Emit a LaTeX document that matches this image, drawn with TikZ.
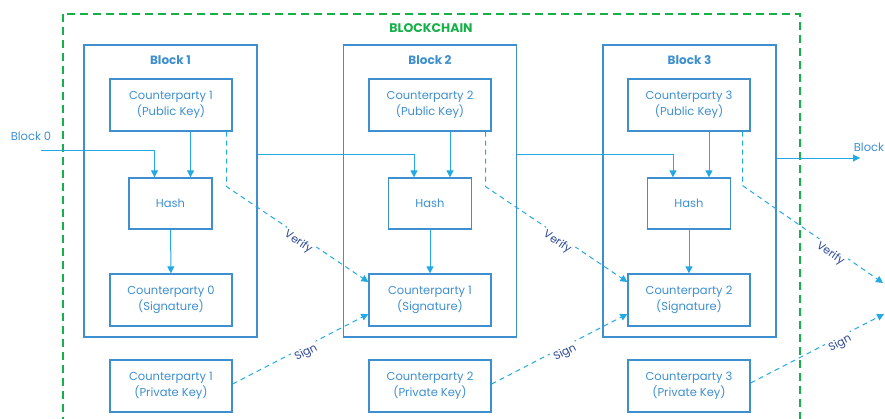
\documentclass[tikz,border=0pt]{standalone}
\usepackage{fontspec}
\setmainfont{Poppins}
\usepackage{tikz}
\usetikzlibrary{arrows.meta, positioning, calc}
\definecolor{chainblue}{RGB}{61,143,208}
\definecolor{linkblue}{RGB}{35,170,228}
\definecolor{labelnavy}{RGB}{44,72,150}
\definecolor{chaingreen}{RGB}{22,176,74}
\tikzset{
  blockbox/.style={rectangle, draw=chainblue, line width=1.3pt,
    minimum width=173pt, minimum height=292pt, inner sep=0pt},
  keybox/.style={rectangle, draw=chainblue, line width=1.3pt, text=chainblue,
    minimum width=122pt, minimum height=52pt, align=center, inner sep=0pt,
    font=\fontsize{11.5}{16}\selectfont},
  hashbox/.style={keybox, minimum width=83pt, minimum height=51pt},
  blocktitle/.style={text=chainblue, font=\bfseries\fontsize{12}{14}\selectfont},
  arrow/.style={-{Triangle[length=7pt,width=7pt]}, line width=1pt, color=linkblue},
  dasharrow/.style={arrow, dash pattern=on 5pt off 4pt},
  edgelabel/.style={sloped, below=-2pt, fill=white, text=labelnavy,
    font=\fontsize{11}{13}\selectfont, inner sep=2pt}
}

\begin{document}
\begin{tikzpicture}[x=1pt, y=-1pt]
  \useasboundingbox (0,0) rectangle (885,418);

  % Blockchain frame
  \draw[chaingreen, line width=2.6pt, dash pattern=on 8pt off 5pt] (63,14) rectangle (800,440);
  \node[text=chaingreen, font=\bfseries\fontsize{12.5}{14}\selectfont] (chain) at (431,28) {BLOCKCHAIN};

  % Block 1
  \node[blockbox] (blk1) at (170.5,191) {};
  \node[blocktitle] (title1) at (170.5,60) {Block 1};
  \node[keybox] (pub1) at (171,105) {Counterparty 1\\(Public Key)};
  \node[hashbox] (hash1) at (170.5,203.5) {Hash};
  \node[keybox] (sig1) at (171,300) {Counterparty 0\\(Signature)};
  \node[keybox] (prv1) at (171,386) {Counterparty 1\\(Private Key)};

  % Block 2
  \node[blockbox] (blk2) at (430,191) {};
  \node[blocktitle] (title2) at (430,60) {Block 2};
  \node[keybox] (pub2) at (430,105) {Counterparty 2\\(Public Key)};
  \node[hashbox] (hash2) at (430,203.5) {Hash};
  \node[keybox] (sig2) at (430,300) {Counterparty 1\\(Signature)};
  \node[keybox] (prv2) at (430,386) {Counterparty 2\\(Private Key)};

  % Block 3
  \node[blockbox] (blk3) at (689.5,191) {};
  \node[blocktitle] (title3) at (689.5,60) {Block 3};
  \node[keybox] (pub3) at (689,105) {Counterparty 3\\(Public Key)};
  \node[hashbox] (hash3) at (689,203.5) {Hash};
  \node[keybox] (sig3) at (689,300) {Counterparty 2\\(Signature)};
  \node[keybox] (prv3) at (689,386) {Counterparty 3\\(Private Key)};

  % Chain in and out
  \node[text=chainblue, font=\fontsize{11.5}{13}\selectfont] (blk0) at (31,136) {Block 0};
  \coordinate (in0) at (41,150);
  \node[text=chainblue, font=\fontsize{11.5}{13}\selectfont] (blk4) at (869,147) {Block};
  \coordinate (out4) at (860,158);
  \coordinate (ver4) at (883,283);
  \coordinate (sgn4) at (884,314);

  % Hash inputs
  \draw[arrow] (in0) -| ([xshift=-16pt]hash1.north);
  \draw[arrow] ([yshift=37pt]blk1.east) -| ([xshift=-16pt]hash2.north);
  \draw[arrow] ([yshift=37pt]blk2.east) -| ([xshift=-16pt]hash3.north);
  \draw[arrow] ([yshift=33pt]blk3.east) -- (out4);
  \draw[arrow] ([xshift=20pt]hash1.north |- pub1.south) -- ([xshift=20pt]hash1.north);
  \draw[arrow] ([xshift=20pt]hash2.north |- pub2.south) -- ([xshift=20pt]hash2.north);
  \draw[arrow] ([xshift=20pt]hash3.north |- pub3.south) -- ([xshift=20pt]hash3.north);
  \draw[arrow] (hash1) -- (sig1);
  \draw[arrow] (hash2) -- (sig2);
  \draw[arrow] (hash3) -- (sig3);

  % Verify and sign
  \draw[dasharrow] ([xshift=-6pt]pub1.south east) -- ++(0,55) -- node[edgelabel, pos=0.53] {Verify} ([yshift=18pt]sig2.west);
  \draw[dasharrow] ([xshift=-6pt]pub2.south east) -- ++(0,55) -- node[edgelabel, pos=0.53] {Verify} ([yshift=18pt]sig3.west);
  \draw[dasharrow] ([xshift=-8pt]pub3.south east) -- ++(0,54) -- node[edgelabel, pos=0.65] {Verify} (ver4);
  \draw[dasharrow] ([yshift=2pt]prv1.east) -- node[edgelabel, pos=0.52] {Sign} ([yshift=-14pt]sig2.west);
  \draw[dasharrow] ([yshift=2pt]prv2.east) -- node[edgelabel, pos=0.52] {Sign} ([yshift=-14pt]sig3.west);
  \draw[dasharrow] ([yshift=3pt]prv3.east) -- node[edgelabel, pos=0.65] {Sign} (sgn4);
\end{tikzpicture}
\end{document}
